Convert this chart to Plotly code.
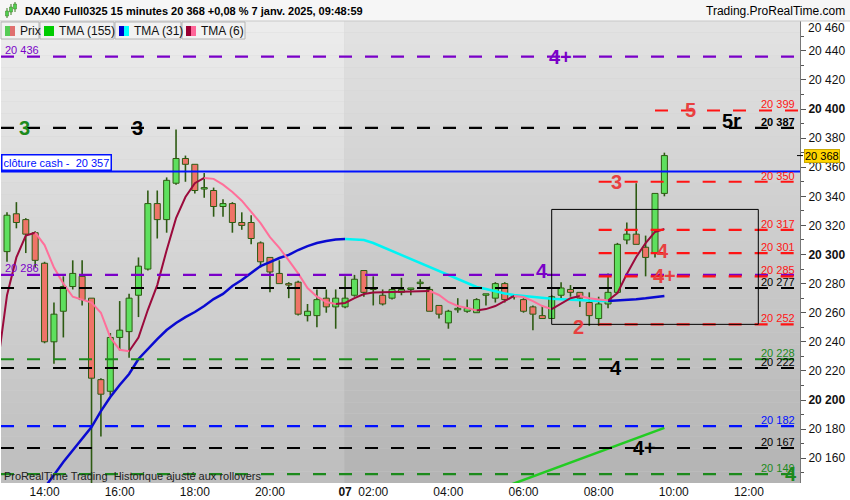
import plotly.graph_objects as go

# ---------------- data ----------------
idx = list(range(1, 72))  # 15-minute candles, 13:00 (6 Jan) .. 09:45 (7 Jan)
opens = [20302, 20328, 20324, 20315, 20294, 20240, 20261, 20278, 20285, 20270,
         20214, 20206, 20243, 20247, 20272, 20290, 20335, 20324, 20349, 20366,
         20362, 20345, 20344, 20333, 20335, 20322, 20322, 20308, 20298, 20287,
         20280, 20281, 20258, 20258, 20270, 20264, 20264, 20272, 20289, 20276,
         20272, 20270, 20274, 20276, 20280, 20276, 20265, 20253, 20262, 20261,
         20260, 20272, 20270, 20280, 20271, 20269, 20264, 20258, 20256, 20272,
         20276, 20274, 20267, 20256, 20266, 20274, 20310, 20314, 20305, 20301,
         20342]
highs = [20329, 20336, 20325, 20316, 20295, 20267, 20285, 20296, 20296, 20270,
         20215, 20246, 20268, 20273, 20298, 20344, 20344, 20353, 20386, 20368,
         20362, 20356, 20346, 20338, 20336, 20329, 20327, 20309, 20298, 20296,
         20281, 20282, 20266, 20276, 20276, 20276, 20285, 20286, 20289, 20285,
         20276, 20277, 20284, 20277, 20283, 20278, 20265, 20262, 20270, 20269,
         20270, 20273, 20281, 20281, 20272, 20270, 20265, 20265, 20272, 20281,
         20279, 20274, 20274, 20271, 20287, 20308, 20322, 20349, 20313, 20342,
         20370]
lows = [20295, 20318, 20301, 20291, 20239, 20225, 20243, 20276, 20265, 20142,
        20175, 20203, 20234, 20229, 20257, 20289, 20311, 20315, 20348, 20350,
        20342, 20339, 20326, 20326, 20315, 20317, 20307, 20291, 20274, 20280,
        20270, 20258, 20254, 20250, 20260, 20249, 20263, 20271, 20271, 20265,
        20265, 20269, 20272, 20272, 20277, 20261, 20256, 20249, 20260, 20260,
        20260, 20265, 20267, 20267, 20269, 20260, 20248, 20256, 20256, 20270,
        20271, 20264, 20251, 20251, 20263, 20273, 20307, 20307, 20285, 20298,
        20340]
closes = [20327, 20322, 20314, 20296, 20240, 20259, 20278, 20287, 20269, 20215,
          20204, 20243, 20248, 20270, 20292, 20335, 20324, 20351, 20366, 20362,
          20344, 20346, 20333, 20335, 20322, 20320, 20311, 20295, 20288, 20280,
          20279, 20259, 20261, 20269, 20264, 20270, 20270, 20283, 20274, 20277,
          20266, 20276, 20276, 20277, 20281, 20261, 20259, 20261, 20263, 20263,
          20269, 20273, 20280, 20269, 20271, 20261, 20259, 20256, 20271, 20277,
          20274, 20270, 20258, 20266, 20274, 20307, 20314, 20307, 20298, 20342,
          20368]

tma6_idx = list(range(0, 72))
tma6 = [20224, 20272, 20298, 20313, 20315, 20306.5, 20291, 20280, 20271, 20269,
        20267, 20260, 20243, 20234.5, 20233.5, 20243, 20262, 20279, 20303, 20325,
        20339.5, 20349, 20352.6, 20352, 20348, 20343, 20337, 20329, 20321.6, 20312,
        20304.5, 20296, 20287, 20277, 20271, 20267.4, 20266, 20266.7, 20270, 20272.8,
        20273.9, 20274.2, 20274.3, 20274.4, 20274.5, 20274.7, 20274.9, 20272.2, 20267.4, 20264.6,
        20263.2, 20261.5, 20262.5, 20264.6, 20268, 20271.5, 20270.8, 20268, 20264.6, 20262.5,
        20266, 20270, 20271.5, 20270, 20269.1, 20268.4, 20273.5, 20286.6, 20298.3, 20307.9,
        20315.5, 20317.5]

tma31_idx = list(range(4, 72))
tma31 = [20131, 20140.2, 20148.5, 20157.4, 20165.6, 20173.9, 20181.4, 20192.4, 20202.1, 20210.3,
         20217.9, 20228.2, 20235.1, 20241.9, 20248.1, 20252.9, 20257, 20260.5, 20264.6, 20269.4,
         20272.9, 20278.4, 20282.5, 20287.3, 20292.1, 20294.8, 20297.6, 20299.7, 20303.1, 20305.8,
         20307.9, 20309.3, 20310.3, 20310.7, 20310.5, 20310, 20307.9, 20305.2, 20302.4, 20299.7,
         20296.9, 20294.2, 20291.4, 20288.7, 20285.9, 20283.2, 20280.4, 20277.7, 20276.3, 20274.6,
         20273.2, 20272.2, 20271.5, 20270.8, 20270.1, 20269.6, 20269.3, 20268.9, 20268.6, 20268.3,
         20268.1, 20268.0, 20268.3, 20268.7, 20269.3, 20269.9, 20270.7, 20271.5]

tma155_idx = list(range(54, 72))
tma155 = [20140.3, 20142.7, 20145.1, 20147.5, 20149.8, 20152.2, 20154.6, 20157.0, 20159.4,
          20161.8, 20164.2, 20166.6, 20169.0, 20171.3, 20173.7, 20176.1, 20178.5, 20180.9]

tick_idx = [5, 13, 21, 29, 37, 40, 48, 56, 64, 72, 80]
tick_lbl = ['14:00', '16:00', '18:00', '20:00', '<b>07</b>', '02:00', '04:00',
            '06:00', '08:00', '10:00', '12:00']
day_break = 36.9

full_levels = [20436, 20387, 20286, 20277, 20228, 20222, 20182, 20167, 20149]
full_colors = ['#7a00c8', '#000000', '#7a00c8', '#000000', '#1c8a1c', '#000000',
               '#0010ff', '#000000', '#1c8a1c']
right_lbl_levels = [20387, 20277, 20228, 20222, 20182, 20167, 20149]
right_lbl_colors = ['#000000', '#000000', '#1c8a1c', '#000000', '#0010ff', '#000000', '#1c8a1c']
red_levels = [20399, 20350, 20317, 20301, 20285, 20252]
red_start = [70, 64, 64, 64, 64, 64]
cash_close = 20357
box_x = [59, 81]
box_y = [20252, 20331]
last_price = 20368

# ---------------- geometry helpers (pixels -> paper) ----------------
W, H = 850, 500
L, R, T, B = 1, 800, 21, 483
XMIN, XMAX = 0.361, 85.44
YMIN, YMAX = 20142.96, 20460.5


def PX(x):
    return (x - L) / (R - L)


def PY(y):
    return (B - y) / (B - T)


def fmt(v):
    s = f"{int(round(v)):,}"
    return s.replace(",", " ")


FONT = "Liberation Sans, Arial, sans-serif"
fig = go.Figure()

# background gradient (two sessions)
N = 40
def mix(c1, c2, t):
    return '#%02x%02x%02x' % tuple(int(round(a + (b - a) * t)) for a, b in zip(c1, c2))

for i in range(N):
    t = i / (N - 1)
    y0 = 1 - i / N
    y1 = 1 - (i + 1) / N
    fig.add_shape(type='rect', xref='x', yref='paper', x0=XMIN, x1=day_break, y0=y1, y1=y0,
                  fillcolor=mix((236, 236, 236), (190, 190, 190), t), line=dict(width=0), layer='below')
    fig.add_shape(type='rect', xref='x', yref='paper', x0=day_break, x1=XMAX, y0=y1, y1=y0,
                  fillcolor=mix((226, 226, 226), (180, 180, 180), t), line=dict(width=0), layer='below')

# ---------------- candles ----------------
WICK = '#2d5a12'
wx, wy = [], []
for k, o, hi, lo, c in zip(idx, opens, highs, lows, closes):
    top, bot = max(o, c), min(o, c)
    if hi > top:
        wx += [k, k, None]
        wy += [top, hi, None]
    if lo < bot:
        wx += [k, k, None]
        wy += [bot, lo, None]
fig.add_trace(go.Scatter(x=wx, y=wy, mode='lines', line=dict(color=WICK, width=1.6),
                         hoverinfo='skip', showlegend=False))

bases = [min(o, c) for o, c in zip(opens, closes)]
heights = [max(abs(c - o), 0.7) for o, c in zip(opens, closes)]
cols = ['#5ee05e' if c >= o else '#ef7468' for o, c in zip(opens, closes)]
fig.add_trace(go.Bar(x=idx, y=heights, base=bases, width=0.64,
                     marker=dict(color=cols, line=dict(color=WICK, width=1)),
                     showlegend=False, hoverinfo='skip'))


def two_tone(xs, ys, up_col, dn_col, width):
    runs = {True: ([], []), False: ([], [])}
    for i in range(len(xs) - 1):
        up = ys[i + 1] >= ys[i]
        tx, ty = runs[up]
        if tx and tx[-1] == xs[i]:
            tx.append(xs[i + 1]); ty.append(ys[i + 1])
        else:
            if tx:
                tx.append(None); ty.append(None)
            tx += [xs[i], xs[i + 1]]; ty += [ys[i], ys[i + 1]]
    for up, col in ((True, up_col), (False, dn_col)):
        tx, ty = runs[up]
        fig.add_trace(go.Scatter(x=tx, y=ty, mode='lines', line=dict(color=col, width=width),
                                 hoverinfo='skip', showlegend=False))


fig.add_trace(go.Scatter(x=tma155_idx, y=tma155, mode='lines', line=dict(color='#22cc22', width=2.5),
                         hoverinfo='skip', showlegend=False))
two_tone(tma31_idx, tma31, '#0a0ad0', '#00f4f4', 2.5)
two_tone(tma6_idx, tma6, '#9b0a3c', '#ff6f9a', 2)

# ---------------- level lines ----------------
DASH = '13px,13px'
for v, col in zip(full_levels, full_colors):
    fig.add_shape(type='line', xref='paper', yref='y', x0=0, x1=1, y0=v, y1=v,
                  line=dict(color=col, width=2.2, dash=DASH))
for v, s in zip(red_levels, red_start):
    fig.add_shape(type='line', xref='x', yref='y', x0=s, x1=XMAX, y0=v, y1=v,
                  line=dict(color='#ff1414', width=2.2, dash=DASH))
fig.add_shape(type='line', xref='paper', yref='y', x0=0, x1=1, y0=cash_close, y1=cash_close,
              line=dict(color='#0010ff', width=2))
fig.add_shape(type='rect', xref='x', yref='y', x0=box_x[0], x1=box_x[1], y0=box_y[0], y1=box_y[1],
              line=dict(color='#000000', width=1))

ann = []


def text(x, y, s, size=11, color='#000', xref='paper', yref='paper', xanchor='left',
         yanchor='middle', bold=False, family=FONT, **kw):
    if bold:
        s = f'<b>{s}</b>'
    ann.append(dict(x=x, y=y, xref=xref, yref=yref, text=s, showarrow=False,
                    xanchor=xanchor, yanchor=yanchor, font=dict(size=size, color=color, family=family),
                    **kw))


# right-side price labels
for v in red_levels:
    text(PX(797), v, fmt(v), color='#ff1414', yref='y', xanchor='right', yanchor='bottom', yshift=-2)
for v, col in zip(right_lbl_levels, right_lbl_colors):
    text(PX(797), v, fmt(v), color=col, yref='y', xanchor='right', yanchor='bottom', yshift=-2,
         bold=(v == 20387))
# left purple labels
for v in (20436, 20286):
    text(PX(3), v, fmt(v), color='#7a00c8', yref='y', xanchor='left', yanchor='bottom', yshift=-1)

# big level markers
big = [('4+', 59.9, 20436, '#7a00c8'), ('3', 2.9, 20387, '#1c8a1c'), ('3', 14.9, 20387, '#000000'),
       ('5r', 78.1, 20391.5, '#000000'), ('5', 73.8, 20399, '#e84040'), ('3', 65.95, 20350, '#e84040'),
       ('4', 70.85, 20302.5, '#e84040'), ('4+', 71.0, 20285.5, '#e84040'), ('4', 57.97, 20289, '#7a00c8'),
       ('2', 61.85, 20250.5, '#e84040'), ('4', 65.9, 20222, '#000000'), ('4+', 68.9, 20167, '#000000'),
       ('4', 84.5, 20149, '#1c8a1c')]
for s, xk, v, col in big:
    text(xk, v, s, size=20, color=col, xref='x', yref='y', xanchor='center', yanchor='middle', bold=True)

# clôture cash box
text(PX(1), cash_close, 'clôture cash -  ' + fmt(cash_close), color='#0010ff', yref='y',
     xanchor='left', yanchor='bottom', bgcolor='#ffffff', bordercolor='#0010ff', borderwidth=1.5,
     borderpad=1, yshift=1)

# last price tag
fig.add_shape(type='line', xref='paper', yref='y', x0=PX(797), x1=PX(803), y0=last_price, y1=last_price,
              line=dict(color='#000', width=1))
text(PX(804), last_price, fmt(last_price), color='#000', yref='y', xanchor='left', yanchor='middle',
     bgcolor='#ffd400', bordercolor='#c9a800', borderwidth=1, borderpad=0)
text(PX(806), PY(28), '20 460', size=12, color='#111')

# bottom-left note
text(PX(2), PY(476), 'ProRealTime Trading  Historique ajusté aux rollovers', size=11, color='#222')

# ---------------- header ----------------
fig.add_shape(type='rect', xref='paper', yref='paper', x0=PX(0), x1=PX(850), y0=PY(21), y1=PY(0),
              fillcolor='#f6f6f6', line=dict(width=0))
fig.add_shape(type='line', xref='paper', yref='paper', x0=PX(0), x1=PX(850), y0=PY(21), y1=PY(21),
              line=dict(color='#c8c8c8', width=1))
# small candle icon
for cx, y0, y1, b0, b1 in ((7, 8, 18, 11, 16), (11, 4, 15, 7, 12), (15, 2, 12, 4, 9)):
    fig.add_shape(type='line', xref='paper', yref='paper', x0=PX(cx), x1=PX(cx), y0=PY(y1), y1=PY(y0),
                  line=dict(color='#3a7a20', width=1))
    fig.add_shape(type='rect', xref='paper', yref='paper', x0=PX(cx - 1.5), x1=PX(cx + 1.5), y0=PY(b1), y1=PY(b0),
                  fillcolor='#4fcf4f', line=dict(color='#3a7a20', width=0.5))
text(PX(23), PY(11), 'DAX40 Full0325 15 minutes 20 368 +0,08 % 7 janv. 2025, 09:48:59', size=11,
     color='#000', bold=True)
text(PX(847), PY(11), 'Trading.ProRealTime.com', size=12, color='#000', xanchor='right')

# legend row
legend = [('Prix', 1, 39, ('#55cc55', '#e07070')), ('TMA (155)', 40, 114, ('#00cc00', '#00cc00')),
          ('TMA (31)', 115, 181, ('#0000cc', '#00ffff')), ('TMA (6)', 182, 245, ('#990033', '#ff6699'))]
for lab, x0, x1, (c1, c2) in legend:
    fig.add_shape(type='rect', xref='paper', yref='paper', x0=PX(x0), x1=PX(x1), y0=PY(39), y1=PY(22),
                  fillcolor='#f2f2f2', line=dict(color='#b4b4b4', width=1))
    fig.add_shape(type='rect', xref='paper', yref='paper', x0=PX(x0 + 4), x1=PX(x0 + 9), y0=PY(36), y1=PY(26),
                  fillcolor=c1, line=dict(width=0))
    fig.add_shape(type='rect', xref='paper', yref='paper', x0=PX(x0 + 9), x1=PX(x0 + 14), y0=PY(36), y1=PY(26),
                  fillcolor=c2, line=dict(width=0))
    text(PX(x0 + 17), PY(30.5), lab, size=12, color='#111')

# ---------------- axes ----------------
ytv = list(range(20440, 20150, -20))
ytt = [('<b>' + fmt(v) + '</b>') if v % 100 == 0 else fmt(v) for v in ytv]
fig.update_yaxes(side='right', range=[YMIN, YMAX], tickmode='array', tickvals=ytv, ticktext=ytt,
                 ticks='outside', ticklen=5, tickcolor='#555', showline=True, linecolor='#777',
                 linewidth=1, showgrid=False, zeroline=False,
                 tickfont=dict(family=FONT, size=12, color='#111'),
                 minor=dict(tickmode='array', tickvals=list(range(20450, 20140, -20)), ticks='outside',
                            ticklen=3, tickcolor='#555', showgrid=False))
fig.update_xaxes(range=[XMIN, XMAX], tickmode='array', tickvals=tick_idx, ticktext=tick_lbl,
                 ticks='', showgrid=False, zeroline=False, showline=False,
                 tickfont=dict(family='Liberation Sans Narrow, Arial Narrow, ' + FONT, size=12, color='#111'))

fig.update_layout(width=W, height=H, margin=dict(l=L, r=W - R, t=T, b=H - B),
                  paper_bgcolor='#ffffff', plot_bgcolor='#d0d0d0', showlegend=False,
                  bargap=0, annotations=ann, hovermode=False)

fig.write_html('out.html', config={'displayModeBar': False, 'staticPlot': True},
               post_script="document.body.style.margin='0px';")
